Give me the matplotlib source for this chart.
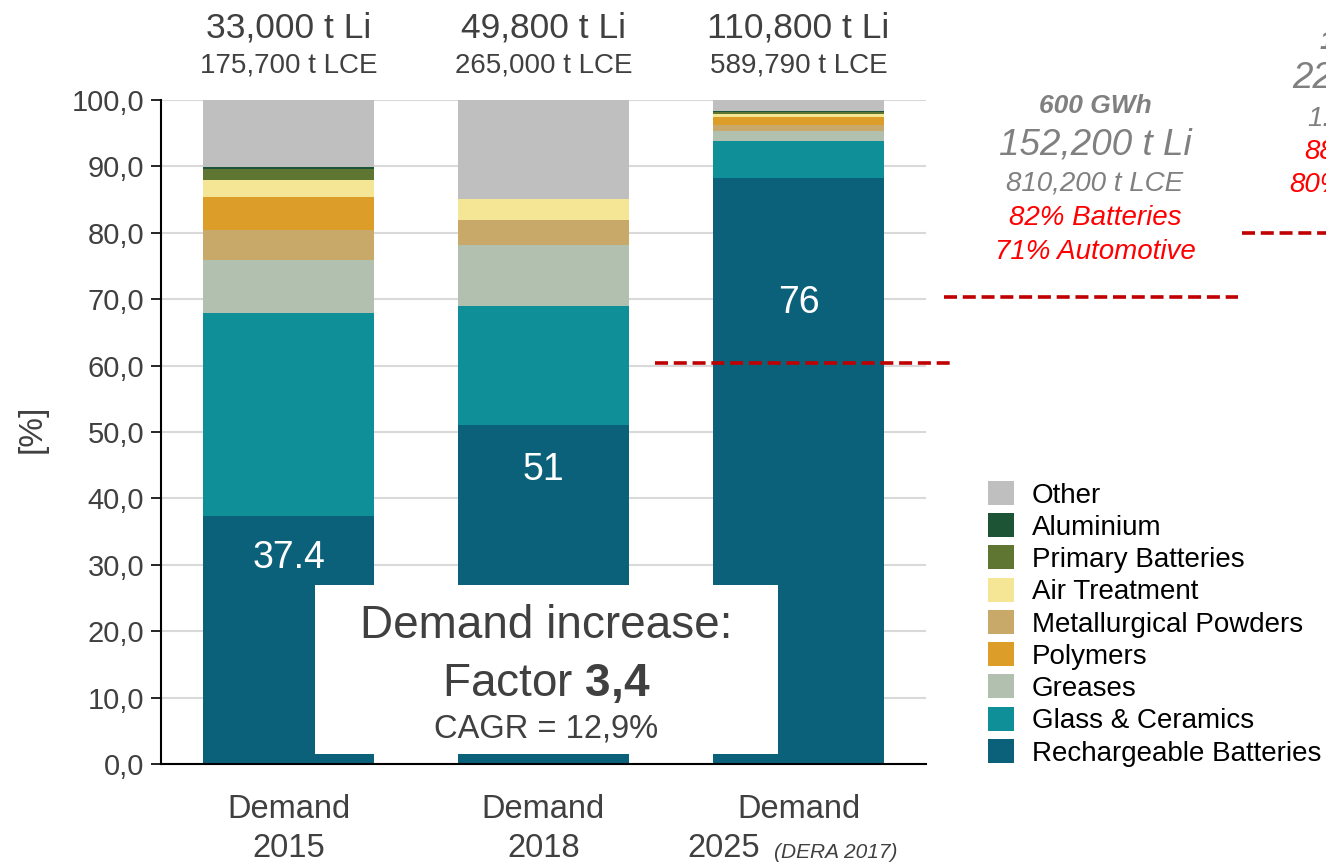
import matplotlib
matplotlib.use("Agg")
import matplotlib.pyplot as plt
from matplotlib.patches import Rectangle, Patch
from matplotlib.ticker import FuncFormatter
import numpy as np

plt.rcParams['font.family'] = ['Liberation Sans', 'DejaVu Sans']
plt.rcParams['mathtext.fontset'] = 'custom'
plt.rcParams['mathtext.rm'] = 'Liberation Sans'
plt.rcParams['mathtext.bf'] = 'Liberation Sans:bold'

# ---------------- data ----------------
years = ['2015', '2018', '2025']
rechargeable = [37.4, 51.0, 88.2]
glass_ceramics = [30.5, 18.0, 5.7]
greases = [8.0, 9.1, 1.5]
metallurgical = [4.5, 3.9, 0.9]
polymers = [5.0, 0.0, 1.1]
air_treatment = [2.5, 3.1, 0.5]
primary_batt = [1.65, 0.0, 0.3]
aluminium = [0.3, 0.0, 0.1]
other = [10.15, 14.9, 1.7]

bar_labels = ['37.4', '51', '76']
li_tonnes = ['33,000 t Li', '49,800 t Li', '110,800 t Li']
lce_tonnes = ['175,700 t LCE', '265,000 t LCE', '589,790 t LCE']
yticks = [0, 10, 20, 30, 40, 50, 60, 70, 80, 90, 100]

# ---------------- style ----------------
series = [
    ('Rechargeable Batteries', rechargeable, '#0c617a'),
    ('Glass & Ceramics', glass_ceramics, '#0f9099'),
    ('Greases', greases, '#b2c0b0'),
    ('Metallurgical Powders', metallurgical, '#c8a96a'),
    ('Polymers', polymers, '#dc9e28'),
    ('Air Treatment', air_treatment, '#f5e696'),
    ('Primary Batteries', primary_batt, '#5e7632'),
    ('Aluminium', aluminium, '#1e5436'),
    ('Other', other, '#bfbfbf'),
]
legend_order = ['Other', 'Aluminium', 'Primary Batteries', 'Air Treatment',
                'Metallurgical Powders', 'Polymers', 'Greases',
                'Glass & Ceramics', 'Rechargeable Batteries']
label_y = [31.0, 44.3, 69.4]
TXT = '#404040'
GRAY = '#808080'
RED = '#ff0000'
DASH = '#c00000'

W, H = 1326, 863
fig = plt.figure(figsize=(W / 100, H / 100), dpi=100)
ax = fig.add_axes([161 / W, 1 - 764 / H, 765 / W, 664 / H])

x = np.arange(len(years))
bottom = np.zeros(len(years))
colors = {}
for name, vals, col in series:
    ax.bar(x, vals, width=0.667, bottom=bottom, color=col, edgecolor='none', zorder=2)
    bottom += np.array(vals)
    colors[name] = col

ax.set_xlim(-0.5, 2.5)
ax.set_ylim(0, 100)
ax.set_yticks(yticks)
ax.yaxis.set_major_formatter(FuncFormatter(lambda v, p: f"{v:.1f}".replace('.', ',')))
ax.tick_params(axis='y', labelsize=21, labelcolor=TXT, length=7, width=1.2, color='black', pad=5)
ax.set_xticks(x)
ax.set_xticklabels([])
ax.tick_params(axis='x', length=0)
ax.grid(axis='y', color='#d9d9d9', linewidth=1.5, zorder=0)
ax.set_axisbelow(True)
for s in ['top', 'right']:
    ax.spines[s].set_visible(False)
for s in ['left', 'bottom']:
    ax.spines[s].set_linewidth(1.5)
    ax.spines[s].set_color('black')
    ax.spines[s].set_zorder(5)
ax.set_ylabel('[%]', fontsize=24, color=TXT)
ax.yaxis.set_label_coords(-0.148, 0.505)

# bar value labels
for xi, lab, ly in zip(x, bar_labels, label_y):
    ax.text(xi, ly, lab, ha='center', va='center', fontsize=27, color='white', zorder=4)

# tonnage above bars
for xi, li, lce in zip(x, li_tonnes, lce_tonnes):
    ax.text(xi, 110.8, li, ha='center', va='center', fontsize=25.5, color=TXT, clip_on=False)
    ax.text(xi, 105.2, lce, ha='center', va='center', fontsize=20, color=TXT, clip_on=False)

# category labels
for xi, yr in zip(x, years):
    ax.text(xi, -6.9, 'Demand', ha='center', va='center', fontsize=23.5, color=TXT, clip_on=False)
    if yr == '2025':
        ax.annotate(yr, (xi, -12.8), xytext=(-28, 0), textcoords='offset points',
                    ha='right', va='center', fontsize=23.5, color=TXT, annotation_clip=False)
        ax.annotate('(DERA 2017)', (xi, -13.3), xytext=(-18, 0), textcoords='offset points',
                    ha='left', va='center', fontsize=15, color=TXT, style='italic',
                    annotation_clip=False)
    else:
        ax.text(xi, -12.8, yr, ha='center', va='center', fontsize=23.5, color=TXT, clip_on=False)

# white box with demand increase
ax.add_patch(Rectangle((0.102, 1.5), 1.818, 25.5, facecolor='white', edgecolor='none', zorder=3))
ax.text(1.012, 20.8, 'Demand increase:', ha='center', va='center', fontsize=33, color=TXT, zorder=4)
ax.text(1.012, 12.0, r'Factor $\mathbf{3{,}4}$', ha='center', va='center', fontsize=33, color=TXT, zorder=4)
ax.text(1.012, 5.3, 'CAGR = 12,9%', ha='center', va='center', fontsize=23.5, color=TXT, zorder=4)

# dashed red reference lines
for (x0, x1, yv) in [(1.439, 2.596, 60.4), (2.569, 3.725, 70.3), (3.741, 4.3, 80.0)]:
    ax.plot([x0, x1], [yv, yv], color=DASH, linewidth=2.6, dashes=(3.6, 1.6),
            clip_on=False, zorder=6)

# annotation for 2030 scenario
def ftext(px, py, s, **kw):
    fig.text(px / W, 1 - py / H, s, **kw)

ftext(1095, 106, '600 GWh', ha='center', va='center', fontsize=19, color=GRAY,
      style='italic', weight='bold')
ftext(1095, 145, '152,200 t Li', ha='center', va='center', fontsize=26.5, color=GRAY, style='italic')
ftext(1095, 184, '810,200 t LCE', ha='center', va='center', fontsize=20, color=GRAY, style='italic')
ftext(1095, 218, '82% Batteries', ha='center', va='center', fontsize=20, color=RED, style='italic')
ftext(1095, 252, '71% Automotive', ha='center', va='center', fontsize=20, color=RED, style='italic')

# partially visible column at the right edge (cut by the figure edge as in the source)
ftext(1320, 42, '1', ha='left', va='center', fontsize=19, color=GRAY, style='italic', weight='bold')
ftext(1292, 79, '22', ha='left', va='center', fontsize=26.5, color=GRAY, style='italic')
ftext(1307, 119, '1.', ha='left', va='center', fontsize=20, color=GRAY, style='italic')
ftext(1304, 152, '88', ha='left', va='center', fontsize=20, color=RED, style='italic')
ftext(1289, 185, '80%', ha='left', va='center', fontsize=20, color=RED, style='italic')

# legend
handles = [Patch(facecolor=colors[n], edgecolor='none') for n in legend_order]
fig.legend(handles, legend_order, loc='upper left', bbox_to_anchor=(988 / W, 1 - 481 / H),
           frameon=False, fontsize=20, handlelength=0.95, handleheight=0.95,
           handletextpad=0.62, labelspacing=0.17, borderpad=0, borderaxespad=0)

fig.savefig('out.png', dpi=100)
